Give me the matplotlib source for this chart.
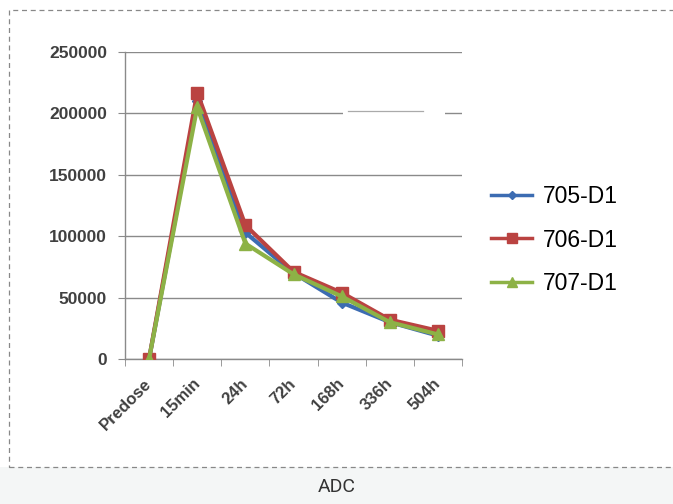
import matplotlib.pyplot as plt
from matplotlib.patches import Rectangle
import numpy as np

# time points and concentrations
timepoints = ['Predose', '15min', '24h', '72h', '168h', '336h', '504h']
s705 = [0, 210000, 103000, 70000, 46000, 30000, 19000]
s706 = [0, 217000, 109000, 71000, 54000, 32000, 23000]
s707 = [0, 205000, 94000, 69000, 51000, 30000, 20000]
yticks = [0, 50000, 100000, 150000, 200000, 250000]

plt.rcParams['font.family'] = ['Liberation Sans', 'DejaVu Sans']

fig = plt.figure(figsize=(6.73, 5.04), dpi=100)

# caption strip and dashed frame
fig.patches.append(Rectangle((0, 0), 1, 37 / 504, transform=fig.transFigure,
                             facecolor='#f4f6f6', edgecolor='none'))
fig.patches.append(Rectangle((9 / 673, 37 / 504), 1.2, 457 / 504, transform=fig.transFigure,
                             facecolor='none', edgecolor='#888888', lw=0.9,
                             linestyle=(0, (4, 3))))
fig.text(0.5, 17 / 504, 'ADC', ha='center', va='center', fontsize=14,
         color='#333333', family=['Roboto', 'DejaVu Sans'])

ax = fig.add_axes([125 / 673, 145 / 504, 337 / 673, 307 / 504])
x = np.arange(len(timepoints))

ax.plot(x, s705, color='#3c6cb2', lw=3, marker='D', ms=5, label='705-D1', zorder=3)
ax.plot(x, s706, color='#ba4341', lw=3, marker='s', ms=9, label='706-D1', zorder=4)
ax.plot(x, s707, color='#8db246', lw=3, marker='^', ms=9, label='707-D1', zorder=5)

ax.set_xlim(-0.5, 6.5)
ax.set_ylim(0, 250000)
ax.set_yticks(yticks)
ax.set_yticklabels([str(v) for v in yticks], fontsize=12.5, fontweight='bold', color='#404040')
ax.yaxis.grid(True, color='#8a8a8a', lw=1.0)
ax.set_axisbelow(True)

ax.set_xticks(x)
ax.set_xticklabels(timepoints, rotation=45, ha='right', va='center', rotation_mode='anchor',
                   fontsize=12, fontweight='bold', color='#404040')
ax.set_xticks(np.arange(-0.5, 7, 1), minor=True)
ax.tick_params(axis='x', which='major', length=0, pad=16)
ax.tick_params(axis='x', which='minor', length=5, color='#8a8a8a', direction='out')
ax.tick_params(axis='y', length=5, color='#8a8a8a', pad=8)

for side in ['top', 'right']:
    ax.spines[side].set_visible(False)
for side in ['left', 'bottom']:
    ax.spines[side].set_color('#8a8a8a')
    ax.spines[side].set_linewidth(1.0)

# white patch over the 200000 gridline, as in the source image
ax.add_patch(Rectangle((4.03, 190000), 2.12, 10800, facecolor='white', edgecolor='none', zorder=1))
ax.plot([4.13, 5.69], [202300, 202300], color='#aaaaaa', lw=0.9, zorder=1)

leg = fig.legend(*ax.get_legend_handles_labels(), loc='center left',
                 bbox_to_anchor=(491 / 673, 264 / 504), frameon=False, fontsize=16.5,
                 borderpad=0, borderaxespad=0, handlelength=1.8, labelspacing=0.88,
                 handletextpad=0.45, markerscale=0.75)
for line in leg.get_lines():
    line.set_linewidth(2.5)

fig.savefig('out.png', dpi=100)
